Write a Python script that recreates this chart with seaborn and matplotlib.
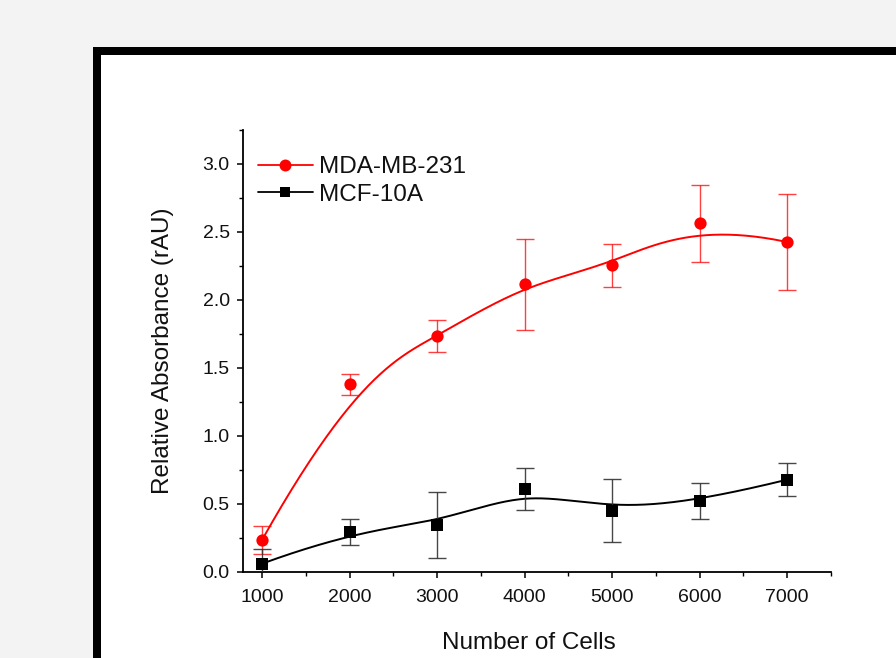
import numpy as np
import pandas as pd
import matplotlib
matplotlib.use("Agg")
import matplotlib.pyplot as plt
from matplotlib.patches import Rectangle
from matplotlib.lines import Line2D
from matplotlib.ticker import MultipleLocator
import seaborn as sns

# ---- data ----
cells = [1000, 2000, 3000, 4000, 5000, 6000, 7000]
mda_mean = [0.235, 1.38, 1.735, 2.115, 2.255, 2.564, 2.426]
mda_err = [0.105, 0.075, 0.115, 0.335, 0.16, 0.285, 0.35]
mcf_mean = [0.061, 0.296, 0.348, 0.608, 0.45, 0.522, 0.679]
mcf_err = [0.105, 0.095, 0.242, 0.155, 0.232, 0.134, 0.12]
series_names = ["MDA-MB-231", "MCF-10A"]
x_ticks = [1000, 2000, 3000, 4000, 5000, 6000, 7000]
y_ticks = [0.0, 0.5, 1.0, 1.5, 2.0, 2.5, 3.0]


def bspline_curve(cx, cy, k=3, n=400):
    """Clamped uniform B-spline using the data points as control points."""
    cx = np.asarray(cx, float)
    cy = np.asarray(cy, float)
    m = len(cx)
    t = np.concatenate([np.zeros(k + 1), np.arange(1, m - k), np.full(k + 1, m - k)]).astype(float)
    u = np.linspace(0, m - k, n)
    u[-1] -= 1e-9
    nb = len(t) - 1
    B = np.array([((u >= t[i]) & (u < t[i + 1])).astype(float) for i in range(nb)])
    for d in range(1, k + 1):
        Bn = np.zeros((nb - d, len(u)))
        for i in range(nb - d):
            a = np.zeros_like(u)
            b = np.zeros_like(u)
            if t[i + d] - t[i] > 0:
                a = (u - t[i]) / (t[i + d] - t[i]) * B[i]
            if t[i + d + 1] - t[i + 1] > 0:
                b = (t[i + d + 1] - u) / (t[i + d + 1] - t[i + 1]) * B[i + 1]
            Bn[i] = a + b
        B = Bn
    return B.T @ cx, B.T @ cy


sns.set_theme(style="ticks")
plt.rcParams["font.family"] = ["Liberation Sans", "DejaVu Sans"]

W, H = 896, 658
fig = plt.figure(figsize=(W / 100, H / 100), dpi=100, facecolor="#f3f3f3")

# black slide frame
lw_px = 8
frame = Rectangle(((93 + lw_px / 2) / W, -0.2), 1.2, 1 - (47 + lw_px / 2) / H + 0.2,
                  transform=fig.transFigure, facecolor="white", edgecolor="black",
                  linewidth=lw_px * 0.72, zorder=-5)
fig.patches.append(frame)

ax_l, ax_r, ax_t, ax_b = 243, 831, 130, 572
ax = fig.add_axes([ax_l / W, 1 - ax_b / H, (ax_r - ax_l) / W, (ax_b - ax_t) / H])
ax.patch.set_alpha(0)

red = "#ff0000"
blk = "#000000"

# smooth curves
for mean, col in [(mda_mean, red), (mcf_mean, blk)]:
    bx, by = bspline_curve(cells, mean)
    sns.lineplot(x=bx, y=by, sort=False, estimator=None, color=col, lw=1.4, ax=ax, zorder=2)

# error bars
ax.errorbar(cells, mda_mean, yerr=mda_err, fmt="none", ecolor=red, alpha=0.75,
            elinewidth=1.0, capsize=6.5, capthick=1.0, zorder=3)
ax.errorbar(cells, mcf_mean, yerr=mcf_err, fmt="none", ecolor="#333333", alpha=0.9,
            elinewidth=1.0, capsize=6.5, capthick=1.0, zorder=3)

# markers
df = pd.DataFrame({"cells": cells + cells, "val": mda_mean + mcf_mean,
                   "series": [series_names[0]] * 7 + [series_names[1]] * 7})
sns.scatterplot(data=df[df.series == series_names[0]], x="cells", y="val", color=red,
                marker="o", s=78, linewidth=0, ax=ax, zorder=4, legend=False)
sns.scatterplot(data=df[df.series == series_names[1]], x="cells", y="val", color=blk,
                marker="s", s=68, linewidth=0, ax=ax, zorder=4, legend=False)

ax.set_xlim(783, 7500)
ax.set_ylim(0, 3.25)
ax.set_xticks(x_ticks)
ax.set_xticklabels([str(v) for v in x_ticks])
ax.set_yticks(y_ticks)
ax.set_yticklabels([f"{v:.1f}" for v in y_ticks])
ax.xaxis.set_minor_locator(MultipleLocator(500))
ax.yaxis.set_minor_locator(MultipleLocator(0.25))

for s in ["top", "right"]:
    ax.spines[s].set_visible(False)
for s in ["left", "bottom"]:
    ax.spines[s].set_color("black")
    ax.spines[s].set_linewidth(1.3)

ax.tick_params(which="major", direction="out", length=4.5, width=1.1, color="black",
               labelsize=14, labelcolor="#111111", pad=5)
ax.tick_params(axis="x", which="major", pad=7.5)
ax.tick_params(which="minor", direction="out", length=2.8, width=1.0, color="black")

ax.set_xlabel("Number of Cells", fontsize=17.5, color="#111111")
ax.set_ylabel("Relative Absorbance (rAU)", fontsize=17.5, color="#111111")
ax.xaxis.set_label_coords(0.486, -0.136)
ax.yaxis.set_label_coords(-0.118, 0.5)
ax.xaxis.label.set_va("top")

handles = [
    Line2D([], [], color=red, lw=1.3, marker="o", ms=8.6, markeredgewidth=0),
    Line2D([], [], color=blk, lw=1.3, marker="s", ms=7.8, markeredgewidth=0),
]
leg = ax.legend(handles, series_names, loc="upper left", bbox_to_anchor=(0.0255, 0.941),
                frameon=False, fontsize=17.5, handlelength=2.25, handletextpad=0.28,
                labelspacing=0.24, borderpad=0, borderaxespad=0)
for txt in leg.get_texts():
    txt.set_color("#111111")

fig.savefig("out.png", dpi=100, facecolor=fig.get_facecolor())
